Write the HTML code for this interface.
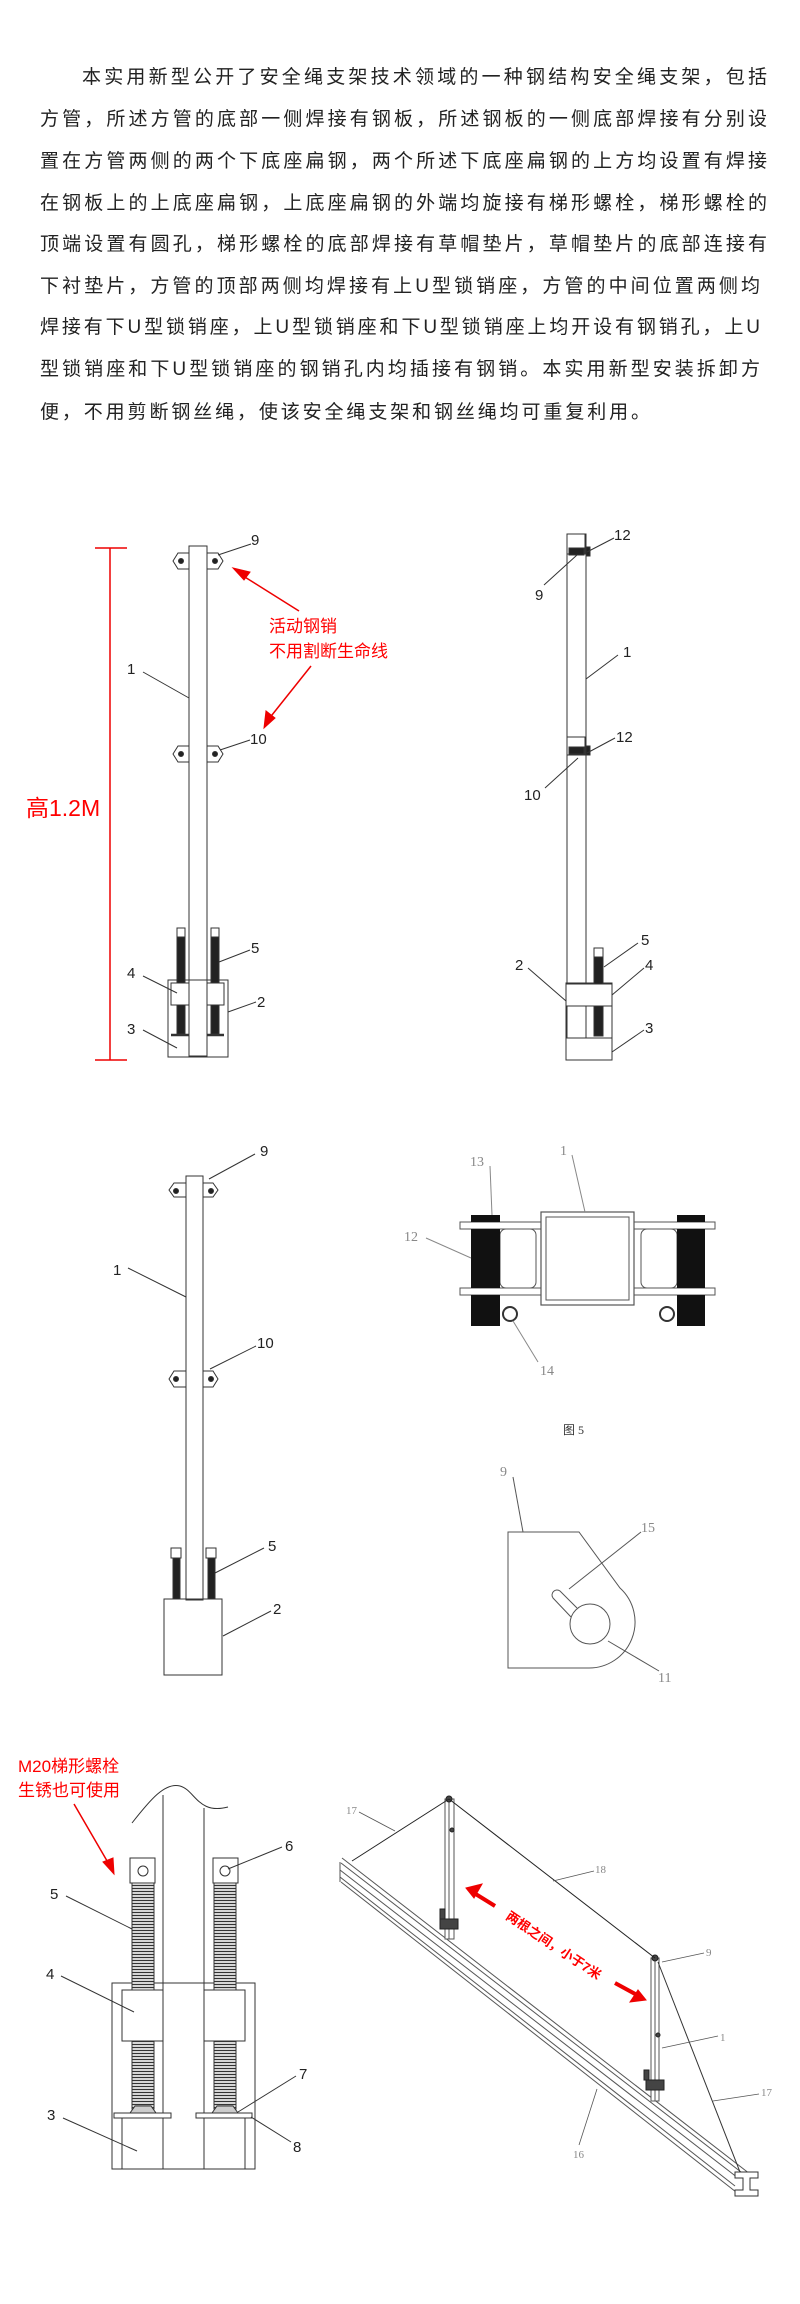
<!DOCTYPE html>
<html><head><meta charset="utf-8">
<style>
html,body{margin:0;padding:0;background:#fff;}
body{width:800px;height:2304px;position:relative;overflow:hidden;}
.p{position:absolute;left:0;top:0;font-family:"Liberation Sans","Noto Sans CJK SC",sans-serif;font-size:19px;color:#222;}
.l{position:absolute;left:40px;width:727px;height:42px;line-height:42px;text-align:justify;text-align-last:justify;white-space:nowrap;}
svg{position:absolute;left:0;top:0;}
.lb{font-family:"Liberation Sans",sans-serif;font-size:15px;fill:#222;}
.gl{font-family:"Liberation Serif",serif;font-size:14px;fill:#888;}
.red{font-family:"Liberation Sans","Noto Sans CJK SC",sans-serif;fill:#f00;}
</style></head><body>
<div class="p">
<div class="l" style="top:57px;left:82px;width:685px;">本实用新型公开了安全绳支架技术领域的一种钢结构安全绳支架，包括</div>
<div class="l" style="top:99px;">方管，所述方管的底部一侧焊接有钢板，所述钢板的一侧底部焊接有分别设</div>
<div class="l" style="top:141px;">置在方管两侧的两个下底座扁钢，两个所述下底座扁钢的上方均设置有焊接</div>
<div class="l" style="top:183px;">在钢板上的上底座扁钢，上底座扁钢的外端均旋接有梯形螺栓，梯形螺栓的</div>
<div class="l" style="top:224px;">顶端设置有圆孔，梯形螺栓的底部焊接有草帽垫片，草帽垫片的底部连接有</div>
<div class="l" style="top:266px;width:720px;">下衬垫片，方管的顶部两侧均焊接有上U型锁销座，方管的中间位置两侧均</div>
<div class="l" style="top:307px;width:720px;">焊接有下U型锁销座，上U型锁销座和下U型锁销座上均开设有钢销孔，上U</div>
<div class="l" style="top:349px;width:720px;">型锁销座和下U型锁销座的钢销孔内均插接有钢销。本实用新型安装拆卸方</div>
<div class="l" style="top:392px;width:610px;">便，不用剪断钢丝绳，使该安全绳支架和钢丝绳均可重复利用。</div>
</div>
<svg width="800" height="2304" viewBox="0 0 800 2304">
<defs>
<pattern id="thr" width="6" height="3" patternUnits="userSpaceOnUse"><rect width="6" height="3" fill="#fff"/><line x1="0" y1="1.5" x2="6" y2="1.5" stroke="#333" stroke-width="1.4"/></pattern>
</defs>
<g stroke="#333" stroke-width="1" fill="none">
<!-- FIG 1 -->
<rect x="189" y="546" width="18" height="510"/>
<line x1="110" y1="548" x2="110" y2="1060" stroke="#e00" stroke-width="1.5"/>
<line x1="95" y1="548" x2="127" y2="548" stroke="#e00" stroke-width="1.5"/>
<line x1="95" y1="1060" x2="127" y2="1060" stroke="#e00" stroke-width="1.5"/>
<path d="M189,553 L178,553 L173,561 L178,569 L189,569Z" fill="#fff"/>
<path d="M207,553 L218,553 L223,561 L218,569 L207,569Z" fill="#fff"/>
<circle cx="181" cy="561" r="2.5" fill="#222"/><circle cx="215" cy="561" r="2.5" fill="#222"/>
<path d="M189,746 L178,746 L173,754 L178,762 L189,762Z" fill="#fff"/>
<path d="M207,746 L218,746 L223,754 L218,762 L207,762Z" fill="#fff"/>
<circle cx="181" cy="754" r="2.5" fill="#222"/><circle cx="215" cy="754" r="2.5" fill="#222"/>
<rect x="168" y="980" width="60" height="77"/>
<rect x="177" y="928" width="8" height="9" fill="#fff"/><rect x="211" y="928" width="8" height="9" fill="#fff"/>
<rect x="177" y="937" width="8" height="97" fill="#222"/><rect x="211" y="937" width="8" height="97" fill="#222"/>
<rect x="171" y="983" width="18" height="22" fill="#fff"/><rect x="207" y="983" width="17" height="22" fill="#fff"/>
<line x1="171" y1="1035" x2="189" y2="1035" stroke-width="2.5"/><line x1="207" y1="1035" x2="224" y2="1035" stroke-width="2.5"/>
<line x1="218" y1="555" x2="251" y2="544"/>
<line x1="220" y1="750" x2="250" y2="740"/>
<line x1="143" y1="672" x2="189" y2="698"/>
<line x1="219" y1="962" x2="250" y2="950"/>
<line x1="143" y1="976" x2="177" y2="993"/>
<line x1="228" y1="1012" x2="256" y2="1002"/>
<line x1="143" y1="1030" x2="177" y2="1048"/>
<line x1="299" y1="611" x2="240" y2="574" stroke="#e00" stroke-width="1.5"/>
<path d="M233,568 L250,572 L244,580Z" fill="#e00" stroke="#e00"/>
<line x1="311" y1="666" x2="268" y2="720" stroke="#e00" stroke-width="1.5"/>
<path d="M264,728 L266,711 L275,718Z" fill="#e00" stroke="#e00"/>

<!-- FIG 2 -->
<rect x="567" y="534" width="19" height="526"/>
<rect x="567" y="534" width="18" height="20"/>
<rect x="569" y="548" width="15" height="7" fill="#222"/><rect x="586" y="547" width="4" height="9" fill="#222"/>
<rect x="567" y="737" width="18" height="18"/>
<rect x="569" y="747" width="15" height="7" fill="#222"/><rect x="586" y="746" width="4" height="9" fill="#222"/>
<rect x="566" y="983" width="46" height="77"/>
<rect x="594" y="948" width="9" height="9" fill="#fff"/>
<rect x="594" y="957" width="9" height="79" fill="#222"/>
<rect x="566" y="984" width="46" height="22" fill="#fff"/>
<rect x="566" y="1038" width="46" height="22" fill="#fff"/>
<line x1="587" y1="552" x2="614" y2="538"/>
<line x1="544" y1="585" x2="577" y2="555"/>
<line x1="586" y1="679" x2="618" y2="655"/>
<line x1="587" y1="753" x2="615" y2="738"/>
<line x1="545" y1="788" x2="578" y2="758"/>
<line x1="604" y1="967" x2="638" y2="943"/>
<line x1="612" y1="995" x2="644" y2="968"/>
<line x1="528" y1="968" x2="566" y2="1001"/>
<line x1="612" y1="1052" x2="644" y2="1030"/>

<!-- FIG 3 -->
<rect x="186" y="1176" width="17" height="424"/>
<path d="M186,1183 L174,1183 L169,1190 L174,1197 L186,1197Z" fill="#fff"/>
<path d="M203,1183 L213,1183 L218,1190 L213,1197 L203,1197Z" fill="#fff"/>
<circle cx="176" cy="1191" r="2.5" fill="#222"/><circle cx="211" cy="1191" r="2.5" fill="#222"/>
<path d="M186,1371 L174,1371 L169,1379 L174,1387 L186,1387Z" fill="#fff"/>
<path d="M203,1371 L213,1371 L218,1379 L213,1387 L203,1387Z" fill="#fff"/>
<circle cx="176" cy="1379" r="2.5" fill="#222"/><circle cx="211" cy="1379" r="2.5" fill="#222"/>
<rect x="164" y="1599" width="58" height="76"/>
<rect x="171" y="1548" width="10" height="10" fill="#fff"/><rect x="206" y="1548" width="10" height="10" fill="#fff"/>
<rect x="173" y="1558" width="7" height="41" fill="#222"/><rect x="208" y="1558" width="7" height="41" fill="#222"/>
<line x1="209" y1="1179" x2="255" y2="1154"/>
<line x1="128" y1="1268" x2="186" y2="1297"/>
<line x1="210" y1="1369" x2="256" y2="1346"/>
<line x1="215" y1="1573" x2="264" y2="1548"/>
<line x1="223" y1="1636" x2="271" y2="1611"/>

<!-- FIG 5 -->
<g stroke="#555">
<rect x="460" y="1222" width="255" height="7" fill="#fff"/>
<rect x="460" y="1288" width="255" height="7" fill="#fff"/>
<rect x="500" y="1229" width="36" height="59" rx="6"/>
<rect x="641" y="1229" width="36" height="59" rx="6"/>
<rect x="541" y="1212" width="93" height="93" fill="#fff" stroke-width="1.2"/>
<rect x="546" y="1217" width="83" height="83"/>
</g>
<rect x="471" y="1215" width="29" height="7" fill="#111" stroke="none"/>
<rect x="471" y="1229" width="29" height="59" fill="#111" stroke="none"/>
<rect x="471" y="1295" width="29" height="31" fill="#111" stroke="none"/>
<rect x="677" y="1215" width="28" height="7" fill="#111" stroke="none"/>
<rect x="677" y="1229" width="28" height="59" fill="#111" stroke="none"/>
<rect x="677" y="1295" width="28" height="31" fill="#111" stroke="none"/>
<circle cx="510" cy="1314" r="7" stroke-width="2" fill="#fff"/>
<circle cx="667" cy="1314" r="7" stroke-width="2" fill="#fff"/>
<g stroke="#888">
<line x1="490" y1="1166" x2="492" y2="1215"/>
<line x1="572" y1="1155" x2="585" y2="1212"/>
<line x1="426" y1="1238" x2="471" y2="1258"/>
<line x1="538" y1="1362" x2="513" y2="1321"/>
</g>

<!-- FIG plate 9 -->
<g stroke="#555">
<path d="M508,1532 L579,1532 L620,1588 A46,46 0 0 1 588,1668 L508,1668 Z"/>
<circle cx="590" cy="1624" r="20"/>
<path d="M571,1617 L553,1598 A5,5 0 0 1 560,1591 L577,1608"/>
<line x1="513" y1="1477" x2="523" y2="1532"/>
<line x1="569" y1="1589" x2="641" y2="1532"/>
<line x1="608" y1="1641" x2="659" y2="1671"/>
</g>

<!-- FIG 4 enlarged -->
<path d="M132,1823 C150,1800 165,1782 180,1786 C195,1790 198,1815 228,1807" stroke="#333"/>
<line x1="163" y1="1795" x2="163" y2="2169"/>
<line x1="204" y1="1808" x2="204" y2="2169"/>
<rect x="112" y="1983" width="143" height="186"/>
<rect x="132" y="1883" width="22" height="226" fill="url(#thr)"/>
<rect x="214" y="1883" width="22" height="226" fill="url(#thr)"/>
<rect x="130" y="1858" width="25" height="25" fill="#fff"/>
<rect x="213" y="1858" width="25" height="25" fill="#fff"/>
<circle cx="143" cy="1871" r="5"/><circle cx="225" cy="1871" r="5"/>
<rect x="122" y="1990" width="41" height="51" fill="#fff"/>
<rect x="204" y="1990" width="41" height="51" fill="#fff"/>
<path d="M130,2113 L135,2106 L151,2106 L156,2113Z" fill="#ccc"/>
<path d="M212,2113 L217,2106 L233,2106 L238,2113Z" fill="#ccc"/>
<rect x="114" y="2113" width="57" height="5" fill="#fff"/>
<rect x="196" y="2113" width="56" height="5" fill="#fff"/>
<line x1="122" y1="2118" x2="122" y2="2169"/>
<line x1="245" y1="2118" x2="245" y2="2169"/>
<line x1="228" y1="1869" x2="282" y2="1847"/>
<line x1="66" y1="1896" x2="132" y2="1929"/>
<line x1="61" y1="1976" x2="134" y2="2012"/>
<line x1="238" y1="2112" x2="296" y2="2076"/>
<line x1="63" y1="2118" x2="137" y2="2151"/>
<line x1="251" y1="2117" x2="291" y2="2142"/>
<line x1="74" y1="1804" x2="110" y2="1866" stroke="#e00" stroke-width="1.5"/>
<path d="M114,1874 L103,1862 L113,1858Z" fill="#e00" stroke="#e00"/>

<!-- 3D rail figure -->
<g stroke="#555">
<line x1="342" y1="1858" x2="750" y2="2174"/>
<line x1="341" y1="1863" x2="741" y2="2172"/>
<line x1="340" y1="1870" x2="738" y2="2178"/>
<line x1="340" y1="1877" x2="735" y2="2186"/>
<line x1="341" y1="1882" x2="736" y2="2192"/>
<line x1="340" y1="1862" x2="340" y2="1882"/>
<path d="M735,2172 L758,2172 L758,2178 L750,2178 L750,2190 L758,2190 L758,2196 L735,2196 L735,2190 L743,2190 L743,2178 L735,2178Z" fill="#fff" stroke="#333"/>
<rect x="445" y="1799" width="9" height="140" fill="#fff"/>
<line x1="449" y1="1800" x2="449" y2="1939"/>
<rect x="651" y="1958" width="8" height="143" fill="#fff"/>
<line x1="655" y1="1959" x2="655" y2="2101"/>
</g>
<g fill="#444" stroke="#222">
<rect x="440" y="1919" width="18" height="10"/><rect x="440" y="1909" width="5" height="10"/>
<rect x="646" y="2080" width="18" height="10"/><rect x="644" y="2070" width="5" height="10"/>
<circle cx="449" cy="1799" r="3"/><circle cx="655" cy="1958" r="3"/>
<circle cx="452" cy="1830" r="2"/><circle cx="658" cy="2035" r="2"/>
</g>
<line x1="449" y1="1799" x2="352" y2="1861" stroke="#222"/>
<line x1="449" y1="1799" x2="655" y2="1958" stroke="#222"/>
<line x1="658" y1="1962" x2="740" y2="2172" stroke="#333"/>
<g stroke="#555" stroke-width="0.8">
<line x1="359" y1="1812" x2="395" y2="1831"/>
<line x1="553" y1="1881" x2="594" y2="1871"/>
<line x1="662" y1="1962" x2="704" y2="1953"/>
<line x1="662" y1="2048" x2="718" y2="2036"/>
<line x1="713" y1="2101" x2="759" y2="2094"/>
<line x1="579" y1="2145" x2="597" y2="2089"/>
</g>
<line x1="474" y1="1893" x2="495" y2="1906" stroke="#e00" stroke-width="4"/>
<path d="M466,1888 L482,1884 L474,1898Z" fill="#e00" stroke="#e00"/>
<line x1="615" y1="1983" x2="637" y2="1995" stroke="#e00" stroke-width="4"/>
<path d="M646,2000 L630,2002 L638,1990Z" fill="#e00" stroke="#e00"/>
</g>

<g class="lb">
<text x="251" y="545">9</text>
<text x="250" y="744">10</text>
<text x="127" y="674">1</text>
<text x="251" y="953">5</text>
<text x="127" y="978">4</text>
<text x="257" y="1007">2</text>
<text x="127" y="1034">3</text>
<text x="614" y="540">12</text>
<text x="535" y="600">9</text>
<text x="623" y="657">1</text>
<text x="616" y="742">12</text>
<text x="524" y="800">10</text>
<text x="641" y="945">5</text>
<text x="645" y="970">4</text>
<text x="515" y="970">2</text>
<text x="645" y="1033">3</text>
<text x="260" y="1156">9</text>
<text x="113" y="1275">1</text>
<text x="257" y="1348">10</text>
<text x="268" y="1551">5</text>
<text x="273" y="1614">2</text>
<text x="285" y="1851">6</text>
<text x="50" y="1899">5</text>
<text x="46" y="1979">4</text>
<text x="299" y="2079">7</text>
<text x="47" y="2120">3</text>
<text x="293" y="2152">8</text>
</g>
<g class="gl">
<text x="470" y="1166">13</text>
<text x="560" y="1155">1</text>
<text x="404" y="1241">12</text>
<text x="540" y="1375">14</text>
<text x="563" y="1434" font-size="12" fill="#333">图 5</text>
<text x="500" y="1476">9</text>
<text x="641" y="1532">15</text>
<text x="658" y="1682">11</text>
<text x="346" y="1814" font-size="11">17</text>
<text x="595" y="1873" font-size="11">18</text>
<text x="706" y="1956" font-size="11">9</text>
<text x="720" y="2041" font-size="11">1</text>
<text x="761" y="2096" font-size="11">17</text>
<text x="573" y="2158" font-size="11">16</text>
</g>
<text class="red" x="26" y="816" font-size="23">高1.2M</text>
<text class="red" x="269" y="632" font-size="17">活动钢销</text>
<text class="red" x="269" y="657" font-size="17">不用割断生命线</text>
<text class="red" x="18" y="1772" font-size="17">M20梯形螺栓</text>
<text class="red" x="18" y="1796" font-size="17">生锈也可使用</text>
<text class="red" x="554" y="1950" font-size="13" font-weight="bold" text-anchor="middle" transform="rotate(33.7 554 1945)">两根之间，小于7米</text>
</svg>
</body></html>
